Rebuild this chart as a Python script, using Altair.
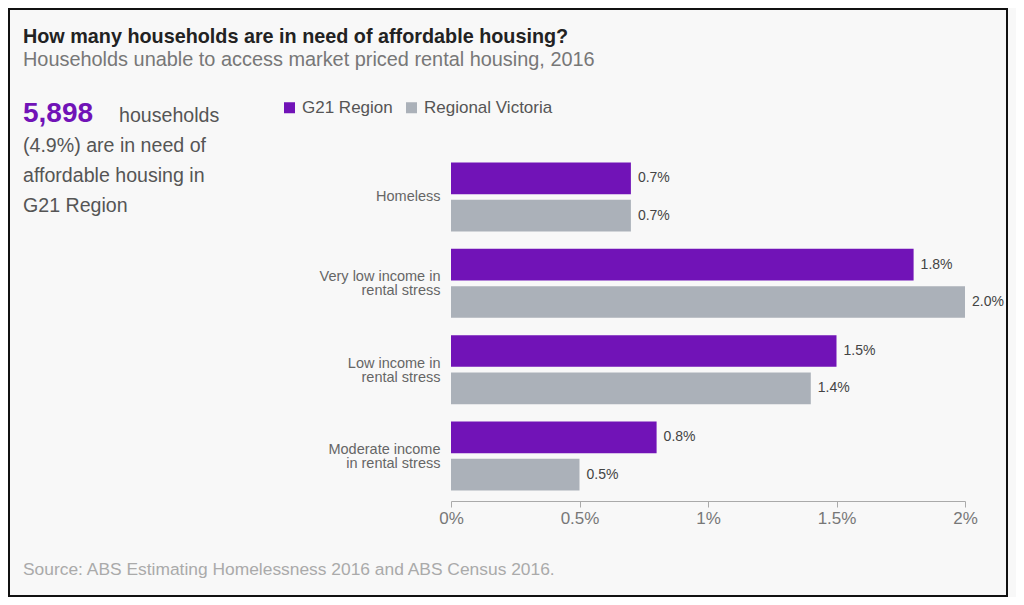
import altair as alt
import pandas as pd

# ---- data ----
categories = ["Homeless", "Very low income in\nrental stress", "Low income in\nrental stress", "Moderate income\nin rental stress"]
series = ["G21 Region", "Regional Victoria"]
g21_values = [0.7, 1.8, 1.5, 0.8]
vic_values = [0.7, 2.0, 1.4, 0.5]
x_ticks = [0, 0.5, 1, 1.5, 2]
colors = ["#7113b7", "#abb1b9"]

title_text = "How many households are in need of affordable housing?"
subtitle_text = "Households unable to access market priced rental housing, 2016"
big_number = "5,898"
big_number_tail = "households"
callout_lines = ["(4.9%) are in need of", "affordable housing in", "G21 Region"]
source_text = "Source: ABS Estimating Homelessness 2016 and ABS Census 2016."

FONT = "Liberation Sans"

rows = []
for c, a, b in zip(categories, g21_values, vic_values):
    rows.append({"category": c, "series": series[0], "value": a, "label": f"{a:.1f}%"})
    rows.append({"category": c, "series": series[1], "value": b, "label": f"{b:.1f}%"})
df = pd.DataFrame(rows)

y_enc = alt.Y("category:N", sort=categories,
              scale=alt.Scale(paddingInner=0.2, paddingOuter=0.122),
              axis=alt.Axis(title=None, ticks=False, domain=False, labelPadding=11,
                            labelFontSize=14.5, labelColor="#666", labelFont=FONT,
                            labelLineHeight=14,
                            labelOffset=alt.condition("indexof(datum.value, '\\n') >= 0",
                                                      alt.value(-6), alt.value(0)),
                            labelExpr="split(datum.label, '\\n')"))
yoff_enc = alt.YOffset("series:N", sort=series, scale=alt.Scale(paddingInner=0.15, paddingOuter=0))
x_enc = alt.X("value:Q", scale=alt.Scale(domain=[0, 2], nice=False),
              axis=alt.Axis(title=None, values=x_ticks, grid=False, labelExpr="datum.value + '%'",
                            labelFlush=False,
                            domainColor="#aaa", tickColor="#aaa", tickSize=6,
                            labelFontSize=17, labelColor="#777", labelFont=FONT, labelPadding=3))

bars = alt.Chart(df).mark_bar().encode(
    y=y_enc, yOffset=yoff_enc, x=x_enc,
    color=alt.Color("series:N", sort=series,
                    scale=alt.Scale(domain=series, range=colors),
                    legend=alt.Legend(title=None, orient="none", legendX=-170, legendY=-53,
                                      direction="horizontal", symbolType="square", symbolSize=121,
                                      symbolStrokeWidth=0, labelFontSize=17, labelColor="#555",
                                      labelFont=FONT, labelOffset=4, columnPadding=10))
)

value_labels = alt.Chart(df).mark_text(align="left", baseline="middle", dx=7, fontSize=14,
                                       color="#444", font=FONT).encode(
    y=alt.Y("category:N", sort=categories), yOffset=alt.YOffset("series:N", sort=series),
    x="value:Q", text="label:N")


def txt(s, x, y, size, color, bold=False):
    return alt.Chart(pd.DataFrame({"t": [s]})).mark_text(
        align="left", baseline="alphabetic", fontSize=size, color=color, font=FONT,
        fontWeight="bold" if bold else "normal").encode(
        text="t:N", x=alt.value(x), y=alt.value(y))


texts = [
    txt(title_text, -428, -109, 19.8, "#222", True),
    txt(subtitle_text, -428, -86, 19.9, "#777"),
    txt(big_number, -428, -30, 28, "#7113b7", True),
    txt(big_number_tail, -332, -30, 19.6, "#555"),
    txt(callout_lines[0], -428, 0, 19.6, "#555"),
    txt(callout_lines[1], -428, 30, 19.6, "#555"),
    txt(callout_lines[2], -428, 60, 19.6, "#555"),
    txt(source_text, -428, 423, 17.4, "#aaa"),
]

border = alt.Chart(pd.DataFrame({"b": [0]})).mark_rect(fill="transparent", stroke="#111", strokeWidth=2).encode(
    x=alt.value(-442), x2=alt.value(556), y=alt.value(-143), y2=alt.value(444))

chart = alt.layer(bars, value_labels, *texts, border).resolve_scale(y="shared").properties(
    width=514, height=349,
    padding={"left": 443, "top": 144, "right": 51, "bottom": 96},
    autosize=alt.AutoSizeParams(type="none"),
    background="#f8f8f8",
).configure_view(stroke=None)

chart.save("out.html", embed_options={"renderer": "svg", "actions": False})
